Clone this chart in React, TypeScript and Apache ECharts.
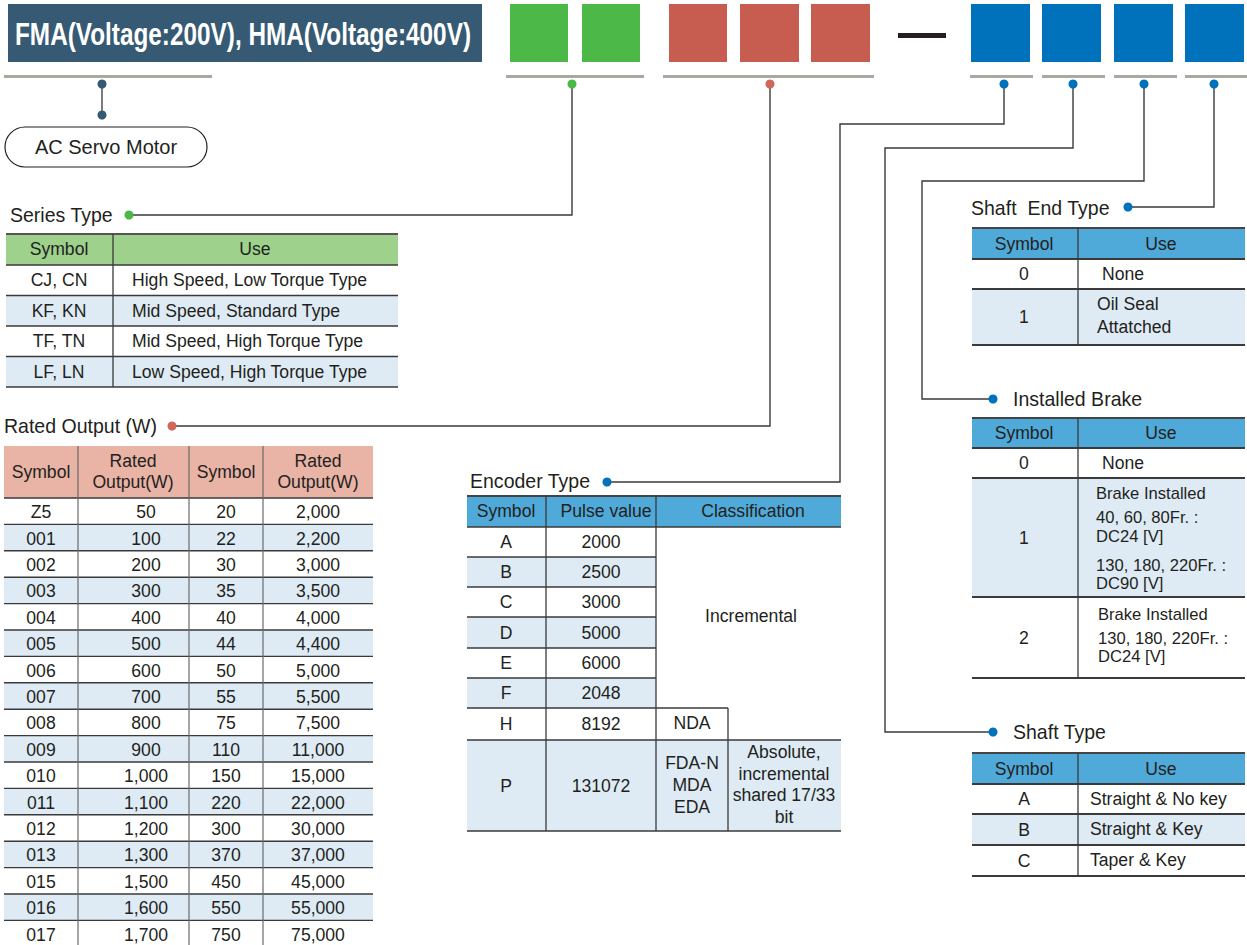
import React, { useEffect, useRef } from "react";
import * as echarts from "echarts";

const W = 1247;
const H = 945;
const FONT = "'Liberation Sans', Arial, Helvetica, sans-serif";
const BODY = 17.6;

// ---------- data ----------
const headerTitle = "FMA(Voltage:200V), HMA(Voltage:400V)";
const motorLabel = "AC Servo Motor";
const sectionTitles = ["Series Type", "Rated Output (W)", "Encoder Type", "Shaft  End Type", "Installed Brake", "Shaft Type"];

const seriesSymbols = ["CJ, CN", "KF, KN", "TF, TN", "LF, LN"];
const seriesUses = [
  "High Speed, Low Torque Type",
  "Mid Speed, Standard Type",
  "Mid Speed, High Torque Type",
  "Low Speed, High Torque Type",
];

const ratedSymbolsLeft = ["Z5", "001", "002", "003", "004", "005", "006", "007", "008", "009", "010", "011", "012", "013", "015", "016", "017"];
const ratedOutputsLeft = ["50", "100", "200", "300", "400", "500", "600", "700", "800", "900", "1,000", "1,100", "1,200", "1,300", "1,500", "1,600", "1,700"];
const ratedSymbolsRight = ["20", "22", "30", "35", "40", "44", "50", "55", "75", "110", "150", "220", "300", "370", "450", "550", "750"];
const ratedOutputsRight = ["2,000", "2,200", "3,000", "3,500", "4,000", "4,400", "5,000", "5,500", "7,500", "11,000", "15,000", "22,000", "30,000", "37,000", "45,000", "55,000", "75,000"];

const encoderSymbols = ["A", "B", "C", "D", "E", "F", "H", "P"];
const encoderPulses = ["2000", "2500", "3000", "5000", "6000", "2048", "8192", "131072"];
const encoderIncremental = "Incremental";
const encoderNdaModel = "NDA";
const encoderAbsModels = ["FDA-N", "MDA", "EDA"];
const encoderAbsClass = ["Absolute,", "incremental", "shared 17/33", "bit"];

const shaftEndSymbols = ["0", "1"];
const shaftEndUses = [["None"], ["Oil Seal", "Attatched"]];

const brakeSymbols = ["0", "1", "2"];
const brakeUses = [
  ["None"],
  ["Brake Installed", "40, 60, 80Fr. :", "DC24 [V]", "130, 180, 220Fr. :", "DC90 [V]"],
  ["Brake Installed", "130, 180, 220Fr. :", "DC24 [V]"],
];

const shaftTypeSymbols = ["A", "B", "C"];
const shaftTypeUses = ["Straight & No key", "Straight & Key", "Taper & Key"];

// ---------- colours ----------
const NAVY = "#365a73";
const GREEN = "#4cb848";
const RED = "#c75c50";
const RED_DOT = "#d0675b";
const BLUE = "#0071bb";
const GRAY_BAR = "#aaa9a1";
const INK = "#231f20";
const LINE = "#3a3a3a";
const STRIPE = "#deebf4";
const HEAD_GREEN = "#9dd18c";
const HEAD_SALMON = "#e9b3a5";
const HEAD_BLUE = "#4fa9d9";

export default function App() {
  const ref = useRef<HTMLDivElement>(null);

  useEffect(() => {
    const chart = echarts.init(ref.current!, null, { renderer: "svg", width: W, height: H });
    const g: any[] = [];

    const rect = (x: number, y: number, w: number, h: number, fill: string, extra: any = {}) =>
      g.push({ type: "rect", shape: { x, y, width: w, height: h, r: extra.r ?? 0 }, style: { fill, stroke: extra.stroke, lineWidth: extra.lw ?? 0 }, silent: true });
    const hline = (x1: number, x2: number, y: number, lw = 1.6, stroke = LINE) =>
      g.push({ type: "line", shape: { x1, y1: y, x2, y2: y }, style: { stroke, lineWidth: lw }, silent: true });
    const vline = (x: number, y1: number, y2: number, lw = 1.3, stroke = LINE) =>
      g.push({ type: "line", shape: { x1: x, y1, x2: x, y2 }, style: { stroke, lineWidth: lw }, silent: true });
    const poly = (pts: number[][], stroke = LINE, lw = 1.4) =>
      g.push({ type: "polyline", shape: { points: pts }, style: { stroke, lineWidth: lw, fill: "none" }, silent: true });
    const dot = (x: number, y: number, fill: string, r = 4.5) =>
      g.push({ type: "circle", shape: { cx: x, cy: y, r }, style: { fill }, silent: true });
    const txt = (x: number, y: number, s: string, o: any = {}) =>
      g.push({
        type: "text",
        x,
        y,
        scaleX: o.sx ?? 1,
        style: {
          text: s,
          fill: o.color ?? INK,
          fontSize: o.size ?? BODY,
          fontFamily: FONT,
          fontWeight: o.weight ?? "normal",
          align: o.align ?? "center",
          textAlign: o.align ?? "center",
          verticalAlign: "middle",
          textVerticalAlign: "middle",
        },
        silent: true,
      });
    const title = (x: number, y: number, s: string) => txt(x, y, s, { size: 21, align: "left", sx: 0.93 });

    // ---------- top code boxes ----------
    rect(8, 4, 474, 58, NAVY);
    txt(15, 34, headerTitle, { color: "#ffffff", size: 31, weight: "bold", align: "left", sx: 0.785 });
    rect(4, 75, 208, 3, GRAY_BAR);
    vline(102, 84, 115, 1.4, "#444");
    dot(102, 84, NAVY);
    dot(102, 115, NAVY);
    rect(5, 127, 202, 40, "#ffffff", { r: 20, stroke: INK, lw: 1.2 });
    txt(106, 147, motorLabel, { size: 20 });

    rect(510, 4, 58, 58, GREEN);
    rect(582, 4, 58, 58, GREEN);
    rect(506, 75, 138, 3, GRAY_BAR);

    rect(669, 4, 58, 58, RED);
    rect(740, 4, 59, 58, RED);
    rect(811, 4, 59, 58, RED);
    rect(663, 75, 211, 3, GRAY_BAR);

    rect(898, 33, 48, 5, INK);

    [971, 1042, 1114, 1185].forEach((x) => rect(x, 4, 59, 58, BLUE));
    rect(970, 75, 63, 3, GRAY_BAR);
    rect(1042, 75, 63, 3, GRAY_BAR);
    rect(1114, 75, 63, 3, GRAY_BAR);
    rect(1185, 75, 62, 3, GRAY_BAR);

    // ---------- connectors ----------
    poly([[572, 84], [572, 215], [129, 215]]);
    dot(572, 84, GREEN);
    dot(129, 215, GREEN);
    title(10, 215, sectionTitles[0]);

    poly([[770, 84], [770, 426], [172, 426]]);
    dot(770, 84, RED_DOT);
    dot(172, 426, RED_DOT);
    title(4, 426, sectionTitles[1]);

    poly([[1004, 84], [1004, 124], [840, 124], [840, 482], [607, 482]]);
    dot(1004, 84, BLUE);
    dot(607, 482, BLUE);
    title(470, 481, sectionTitles[2]);

    poly([[1073, 84], [1073, 148], [885, 148], [885, 732], [993, 732]]);
    dot(1073, 84, BLUE);
    dot(993, 732, BLUE);
    title(1013, 732, sectionTitles[5]);

    poly([[1144, 84], [1144, 181], [922, 181], [922, 399], [993, 399]]);
    dot(1144, 84, BLUE);
    dot(993, 399, BLUE);
    title(1013, 399, sectionTitles[4]);

    poly([[1214, 84], [1214, 207], [1128, 207]]);
    dot(1214, 84, BLUE);
    dot(1128, 207, BLUE);
    title(971, 208, sectionTitles[3]);

    // ---------- Series Type table ----------
    {
      const x0 = 6, x1 = 113, x2 = 398, top = 234, hb = 265, rh = 30.5;
      rect(x0, top, x2 - x0, hb - top, HEAD_GREEN);
      seriesSymbols.forEach((s, i) => {
        const y = hb + i * rh;
        if (i % 2 === 1) rect(x0, y, x2 - x0, rh, STRIPE);
      });
      hline(x0, x2, top, 2, "#555");
      hline(x0, x2, hb);
      seriesSymbols.forEach((s, i) => {
        const y = hb + i * rh;
        hline(x0, x2, y + rh);
        txt(59, y + rh / 2, s);
        txt(132, y + rh / 2, seriesUses[i], { align: "left" });
      });
      vline(x1, top, hb + seriesSymbols.length * rh);
      txt(59, 249, "Symbol");
      txt(255, 249, "Use");
    }

    // ---------- Rated Output table ----------
    {
      const cols = [4, 78, 189, 263, 373];
      const top = 446, hb = 498, rh = 26.4;
      rect(cols[0], top, cols[4] - cols[0], hb - top, HEAD_SALMON);
      ratedSymbolsLeft.forEach((_, i) => {
        if (i % 2 === 1) rect(cols[0], hb + i * rh, cols[4] - cols[0], rh, STRIPE);
      });
      hline(cols[0], cols[4], hb, 1.6);
      ratedSymbolsLeft.forEach((s, i) => {
        const y = hb + i * rh;
        hline(cols[0], cols[4], y + rh, 1.4);
        txt(41, y + rh / 2 + 1, s);
        txt(146, y + rh / 2 + 1, ratedOutputsLeft[i]);
        txt(226, y + rh / 2 + 1, ratedSymbolsRight[i]);
        txt(318, y + rh / 2 + 1, ratedOutputsRight[i]);
      });
      [cols[1], cols[2], cols[3]].forEach((x) => vline(x, top, H, 1.2, "#6a6a6a"));
      txt(41, 472, "Symbol");
      txt(133, 461, "Rated");
      txt(133, 482, "Output(W)");
      txt(226, 472, "Symbol");
      txt(318, 461, "Rated");
      txt(318, 482, "Output(W)");
    }

    // ---------- Encoder Type table ----------
    {
      const c0 = 467, c1 = 546, c2 = 656, c3 = 728, c4 = 841;
      const top = 496, hb = 527;
      const rowTops = [527, 557, 587, 617, 648, 678, 708, 740];
      const bottom = 831;
      rect(c0, top, c4 - c0, hb - top, HEAD_BLUE);
      encoderSymbols.forEach((s, i) => {
        const y0 = rowTops[i];
        const y1 = i + 1 < rowTops.length ? rowTops[i + 1] : bottom;
        if (i % 2 === 1) rect(c0, y0, (i === 7 ? c4 : c2) - c0, y1 - y0, STRIPE);
      });
      hline(c0, c4, top, 2, "#444");
      hline(c0, c4, hb);
      for (let i = 1; i <= 5; i++) hline(c0, c2, rowTops[i]);
      hline(c0, c3, rowTops[6]);
      hline(c0, c4, rowTops[7]);
      hline(c0, c4, bottom);
      vline(c1, top, bottom);
      vline(c2, top, bottom);
      vline(c3, rowTops[6], bottom);
      encoderSymbols.forEach((s, i) => {
        const y0 = rowTops[i];
        const y1 = i + 1 < rowTops.length ? rowTops[i + 1] : bottom;
        const cy = (y0 + y1) / 2;
        txt(506, cy, s);
        txt(601, cy, encoderPulses[i]);
      });
      txt(506, 511, "Symbol");
      txt(606, 511, "Pulse value");
      txt(753, 511, "Classification");
      txt(751, 616, encoderIncremental);
      txt(692, 723, encoderNdaModel);
      encoderAbsModels.forEach((s, i) => txt(692, 763 + i * 22, s));
      encoderAbsClass.forEach((s, i) => txt(784, 752 + i * 21.7, s));
    }

    // ---------- right-hand tables ----------
    const rightTable = (top: number, hb: number, rowBounds: number[], stripes: boolean[], symbols: string[], uses: string[][], lineYs: number[][], useX: number[]) => {
      const x0 = 972, x1 = 1078, x2 = 1245;
      rect(x0, top, x2 - x0, hb - top, HEAD_BLUE);
      symbols.forEach((_, i) => {
        if (stripes[i]) rect(x0, rowBounds[i], x2 - x0, rowBounds[i + 1] - rowBounds[i], STRIPE);
      });
      hline(x0, x2, top, 2, "#444");
      hline(x0, x2, hb, 1.8);
      symbols.forEach((s, i) => {
        hline(x0, x2, rowBounds[i + 1], 1.8);
        txt(1024, (rowBounds[i] + rowBounds[i + 1]) / 2, s);
        uses[i].forEach((u, j) => txt(useX[i], rowBounds[i] + lineYs[i][j], u, { align: "left", size: uses[i].length > 2 ? 16.6 : BODY }));
      });
      vline(x1, top, rowBounds[rowBounds.length - 1]);
      txt(1024, (top + hb) / 2, "Symbol");
      txt(1161, (top + hb) / 2, "Use");
    };

    rightTable(228, 259, [259, 289, 345], [false, true], shaftEndSymbols, shaftEndUses, [[15], [15, 38]], [1102, 1097]);
    rightTable(418, 448, [448, 478, 597, 678], [false, true, false], brakeSymbols, brakeUses, [[15], [15, 39, 58, 87, 105], [17, 41, 59]], [1102, 1096, 1098]);
    rightTable(753, 784, [784, 814, 845, 876], [false, true, false], shaftTypeSymbols, shaftTypeUses.map((u) => [u]), [[15], [15], [15]], [1090, 1090, 1090]);

    chart.setOption({ animation: false, graphic: { elements: g } });
    return () => chart.dispose();
  }, []);

  return <div ref={ref} style={{ position: "fixed", left: 0, top: 0, width: W, height: H, background: "#ffffff" }} />;
}
